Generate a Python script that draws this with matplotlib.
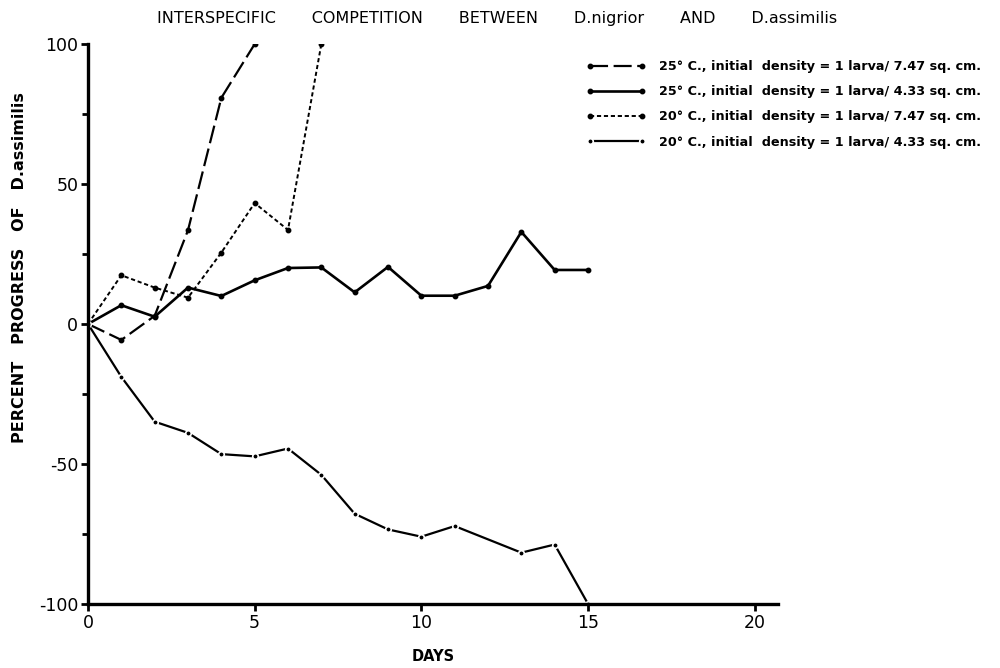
import matplotlib
matplotlib.use("Agg")
import matplotlib.pyplot as plt

plt.rcParams['font.family'] = ['DejaVu Sans']
plt.rcParams['lines.scale_dashes'] = False
plt.rcParams['axes.unicode_minus'] = False

# dados
dias_25_747 = [0, 1, 2, 3, 4, 5]
prog_25_747 = [0, -5.7, 2.9, 33.5, 80.8, 100]

dias_25_433 = [0, 1, 2, 3, 4, 5, 6, 7, 8, 9, 10, 11, 12, 13, 14, 15]
prog_25_433 = [0, 6.7, 2.6, 13, 10, 15.6, 20, 20.2, 11.3, 20.4, 10.1, 10.1, 13.6, 32.9, 19.3, 19.3]

dias_20_747 = [0, 1, 2, 3, 4, 5, 6, 7]
prog_20_747 = [0, 17.4, 13, 9.4, 25.5, 43.2, 33.6, 100]

dias_20_433 = [0, 1, 2, 3, 4, 5, 6, 7, 8, 9, 10, 11, 13, 14, 15]
prog_20_433 = [0, -18.9, -34.9, -38.9, -46.5, -47.3, -44.5, -53.9, -67.8, -73.4, -76, -72.2, -81.7, -78.8, -100]

legendas = [
    "25° C., initial  density = 1 larva/ 7.47 sq. cm.",
    "25° C., initial  density = 1 larva/ 4.33 sq. cm.",
    "20° C., initial  density = 1 larva/ 7.47 sq. cm.",
    "20° C., initial  density = 1 larva/ 4.33 sq. cm.",
]

fig = plt.figure(figsize=(10, 6.68), dpi=100)
ax = fig.add_axes([0.088, 0.096, 0.69, 0.838])

lw = 1.6
ax.plot(dias_25_747, prog_25_747, color='black', lw=lw, dashes=(13, 4),
        marker='o', markersize=3.2, label=legendas[0])
ax.plot(dias_25_433, prog_25_433, color='black', lw=lw + 0.3, linestyle='-',
        marker='o', markersize=3.2, label=legendas[1])
ax.plot(dias_20_747, prog_20_747, color='black', lw=lw - 0.2, dashes=(3, 2),
        marker='o', markersize=3.2, label=legendas[2])
ax.plot(dias_20_433, prog_20_433, color='black', lw=lw, linestyle='-',
        marker='o', markersize=4, markerfacecolor='black',
        markeredgecolor='white', markeredgewidth=1.2, label=legendas[3])

ax.set_xlim(0, 20.7)
ax.set_ylim(-100, 100)
ax.set_xticks([0, 5, 10, 15, 20])
ax.set_xticklabels(['0', '5', '10', '15', '20'])
ax.set_yticks([-100, -50, 0, 50, 100])
ax.set_yticks([-75, -25, 25, 75], minor=True)

for lado in ['top', 'right']:
    ax.spines[lado].set_visible(False)
for lado in ['left', 'bottom']:
    ax.spines[lado].set_linewidth(2.4)

ax.tick_params(axis='both', which='major', direction='out', length=5, width=2,
               labelsize=12.5, pad=2)
ax.tick_params(axis='y', which='minor', direction='out', length=4, width=2)

ax.set_xlabel("DAYS", fontsize=10.5, fontweight='bold')
ax.xaxis.set_label_coords(0.5, -0.08)
ax.set_ylabel("PERCENT   PROGRESS   OF   D.assimilis", fontsize=11.5,
              fontweight='bold')
ax.yaxis.set_label_coords(-0.088, 0.6)

esp = " " * 7
fig.text(0.497, 0.972, esp.join(["INTERSPECIFIC", "COMPETITION", "BETWEEN", "D.nigrior", "AND", "D.assimilis"]),
         ha='center', va='center', fontsize=11.5)

leg = ax.legend(loc='upper left', bbox_to_anchor=(0.586, 0.91), bbox_transform=fig.transFigure,
                frameon=False, numpoints=2, handlelength=4.7, handletextpad=1.0,
                labelspacing=0.95, borderaxespad=0, borderpad=0,
                prop={'size': 9.2, 'weight': 'bold'})

fig.savefig("out.png", dpi=100)
